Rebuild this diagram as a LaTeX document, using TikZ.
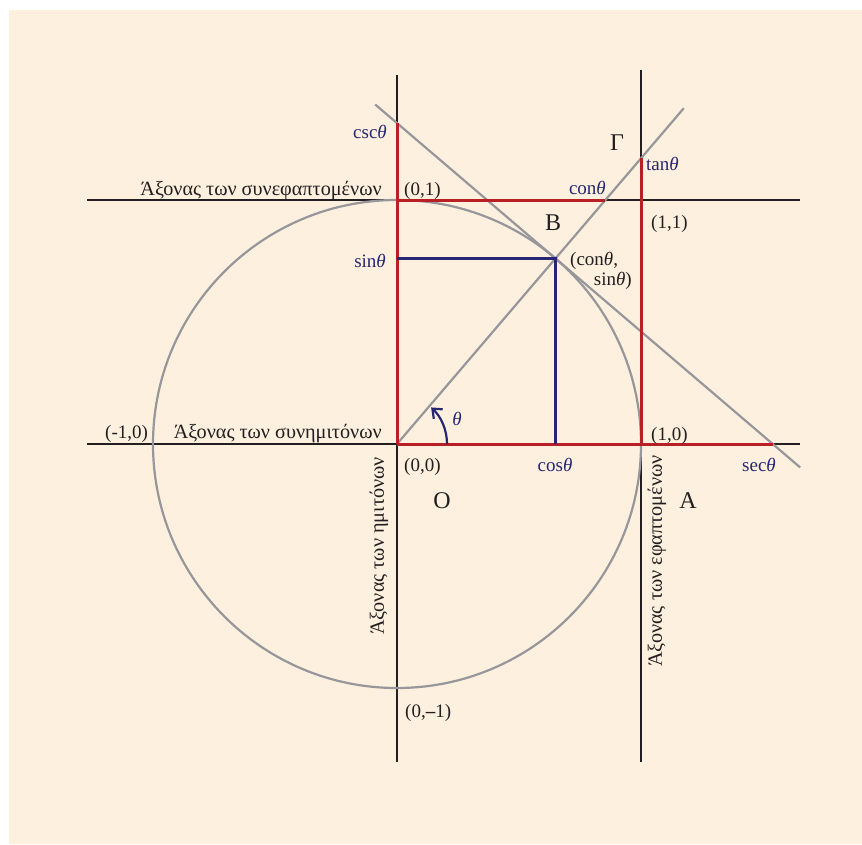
\documentclass[tikz,border=0pt]{standalone}
\usepackage{fontspec}
\setmainfont{Liberation Serif}
\usetikzlibrary{calc,arrows.meta}
\definecolor{bg}{RGB}{253,240,222}
\definecolor{redl}{RGB}{185,32,38}
\definecolor{navy}{RGB}{38,38,115}
\definecolor{grayc}{RGB}{150,150,155}
\definecolor{ink}{RGB}{35,31,32}
\newcommand\thg{\textit{θ}}
\begin{document}
\begin{tikzpicture}[x=1pt,y=-1pt,
  lbl/.style={font=\fontsize{19}{22}\selectfont, text=ink, inner sep=0pt},
  glbl/.style={font=\fontsize{20.2}{23}\selectfont, text=ink, inner sep=0pt},
  nlbl/.style={lbl, text=navy},
  big/.style={font=\fontsize{24}{28}\selectfont, text=ink, inner sep=0pt},
  axisline/.style={draw=ink, line width=2pt},
  redseg/.style={draw=redl, line width=3pt},
  navyseg/.style={draw=navy, line width=3.2pt},
  grayline/.style={draw=grayc, line width=2.2pt}]
\useasboundingbox (0,0) rectangle (862,844);
\fill[white] (0,0) rectangle (862,844);
\fill[bg] (9,10) rectangle (862,844);
\begin{scope}[shift={(397,444)}, x=244pt, y=244pt]
\def\myang{49.5}
\coordinate (O) at (0,0);
\coordinate (B) at (\myang:1);
\coordinate (Ps) at (0,{sin(\myang)});
\coordinate (Pc) at ({cos(\myang)},0);
\coordinate (T) at (1,{tan(\myang)});
\coordinate (Cs) at (0,{1/sin(\myang)});
\coordinate (Se) at ({1/cos(\myang)},0);
\coordinate (Ct) at ({cot(\myang)},1);
\coordinate (A1) at (1,0);
\coordinate (Y1) at (0,1);
\coordinate (hL) at (-1.27,0);
\coordinate (hR) at (1.652,0);
\coordinate (tL) at (-1.27,1);
\coordinate (tR) at (1.652,1);
\coordinate (vT) at (0,1.512);
\coordinate (vB) at (0,-1.303);
\coordinate (wT) at (1,1.533);
\coordinate (wB) at (1,-1.303);
\coordinate (rE) at (\myang:1.81);
\coordinate (gS) at ($(Cs)!-0.058!(Se)$);
\coordinate (gE) at ($(Se)!-0.073!(Cs)$);
\draw[axisline] (hL) -- (hR);
\draw[axisline] (tL) -- (tR);
\draw[axisline] (vT) -- (vB);
\draw[axisline] (wT) -- (wB);
\draw[grayline] (O) circle[radius=1];
\draw[grayline] (O) -- (rE);
\draw[grayline] (gS) -- (gE);
\draw[redseg] (O) -- (Se);
\draw[redseg] (O) -- (Cs);
\draw[redseg] (Y1) -- (Ct);
\draw[redseg] (A1) -- (T);
\draw[navyseg] (Ps) -- (B) -- (Pc);
\draw[navy, line width=2.2pt, -{Straight Barb[length=8pt,width=13pt]}] (0.205,0) arc[start angle=0,end angle=47,radius=0.205];
\end{scope}
\node[nlbl, anchor=base east] (lcsc) at (387,138) {csc\thg};
\node[glbl, anchor=base east] (lcotax) at (382,195) {Άξονας των συνεφαπτομένων};
\node[lbl, anchor=base west] (l01) at (404,195) {(0,1)};
\node[nlbl, anchor=base east] (lcot) at (606,194) {con\thg};
\node[big] (lG) at (617,143) {Γ};
\node[nlbl, anchor=base west] (ltan) at (646,170) {tan\thg};
\node[lbl, anchor=base west] (l11) at (651,228) {(1,1)};
\node[big, anchor=base] (lB) at (553,230) {B};
\node[lbl, anchor=base west] (lB1) at (570,265) {(con\thg,};
\node[lbl, anchor=base east] (lB2) at (632,285) {sin\thg)};
\node[nlbl, anchor=base east] (lsin) at (386,267) {sin\thg};
\node[nlbl] (lth) at (457,419) {\thg};
\node[lbl, anchor=base west] (lm10) at (105,438) {(-1,0)};
\node[glbl, anchor=base east] (lcosax) at (382,438) {Άξονας των συνημιτόνων};
\node[lbl, anchor=base west] (l10) at (651,440) {(1,0)};
\node[lbl, anchor=base west] (l00) at (404,471) {(0,0)};
\node[nlbl, anchor=base] (lcos) at (555,471) {cos\thg};
\node[nlbl, anchor=base] (lsec) at (759,471) {sec\thg};
\node[big, anchor=base] (lO) at (442,508) {O};
\node[big, anchor=base] (lA) at (688,508) {A};
\node[lbl, anchor=base west] (l0m1) at (405,717) {(0,\textbf{–}1)};
\node[glbl, rotate=90] (lsinax) at (379,546) {Άξονας των ημιτόνων};
\node[glbl, rotate=90] (ltanax) at (657,561) {Άξονας των εφαπτομένων};
\end{tikzpicture}
\end{document}
